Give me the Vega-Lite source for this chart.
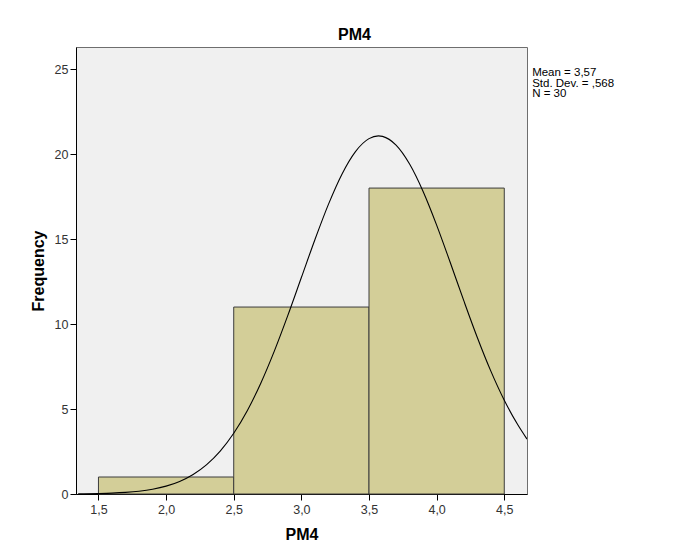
{
  "$schema": "https://vega.github.io/schema/vega-lite/v6.json",
  "autosize": {"type": "none"},
  "padding": {"left": 76, "top": 47, "right": 159, "bottom": 59},
  "width": 451,
  "height": 447,
  "background": "white",
  "title": {"text": "PM4", "fontSize": 16, "fontWeight": "bold", "font": "Liberation Sans", "color": "#000000", "offset": 4, "anchor": "middle", "dx": 53},
  "config": {
    "view": {"fill": "#f0f0f0", "stroke": "#6e6e6e", "strokeWidth": 1},
    "axis": {"grid": false, "domainColor": "#000000", "domainWidth": 1, "tickColor": "#000000", "tickSize": 6, "labelFont": "Liberation Sans", "labelFontSize": 12.5, "labelColor": "#333333", "titleFont": "Liberation Sans", "titleFontWeight": "bold", "titleColor": "#000000"}
  },
  "datasets": {
    "bins": [
      {"bin_start": 1.5, "bin_end": 2.5, "count": 1},
      {"bin_start": 2.5, "bin_end": 3.5, "count": 11},
      {"bin_start": 3.5, "bin_end": 4.5, "count": 18}
    ],
    "curve": [
      {"x": 1.35, "y": 0.010}, {"x": 1.5, "y": 0.028}, {"x": 1.6, "y": 0.051}, {"x": 1.7, "y": 0.093},
      {"x": 1.8, "y": 0.164}, {"x": 1.9, "y": 0.280}, {"x": 2.0, "y": 0.462}, {"x": 2.1, "y": 0.740},
      {"x": 2.2, "y": 1.149}, {"x": 2.3, "y": 1.730}, {"x": 2.4, "y": 2.525}, {"x": 2.5, "y": 3.573},
      {"x": 2.6, "y": 4.902}, {"x": 2.7, "y": 6.519}, {"x": 2.8, "y": 8.407}, {"x": 2.9, "y": 10.508},
      {"x": 3.0, "y": 12.735}, {"x": 3.1, "y": 14.962}, {"x": 3.2, "y": 17.042}, {"x": 3.3, "y": 18.819},
      {"x": 3.4, "y": 20.147}, {"x": 3.5, "y": 20.910}, {"x": 3.57, "y": 21.07}, {"x": 3.6, "y": 21.040},
      {"x": 3.7, "y": 20.525}, {"x": 3.8, "y": 19.412}, {"x": 3.9, "y": 17.798}, {"x": 4.0, "y": 15.821},
      {"x": 4.1, "y": 13.633}, {"x": 4.2, "y": 11.390}, {"x": 4.3, "y": 9.225}, {"x": 4.4, "y": 7.244},
      {"x": 4.5, "y": 5.515}, {"x": 4.6, "y": 4.070}, {"x": 4.668, "y": 3.23}
    ],
    "stats": [
      {"label": "Mean = 3,57\nStd. Dev. = ,568\nN = 30", "px": 4.706, "py": 25.1}
    ]
  },
  "layer": [
    {
      "data": {"name": "bins"},
      "mark": {"type": "rect", "fill": "#d3ce98", "stroke": "#3c3c3c", "strokeWidth": 1},
      "encoding": {
        "x": {"field": "bin_start", "type": "quantitative", "scale": {"domain": [1.334, 4.668], "nice": false, "zero": false},
              "axis": {"title": "PM4", "titleFontSize": 16, "titlePadding": 11, "values": [1.5, 2.0, 2.5, 3.0, 3.5, 4.0, 4.5], "labelExpr": "replace(format(datum.value, '.1f'), '.', ',')", "labelPadding": 3}},
        "x2": {"field": "bin_end"},
        "y": {"field": "count", "type": "quantitative", "scale": {"domain": [0, 26.3], "nice": false},
              "axis": {"title": "Frequency", "titleFontSize": 16, "titlePadding": 8, "values": [0, 5, 10, 15, 20, 25], "labelPadding": 2}},
        "y2": {"datum": 0}
      }
    },
    {
      "data": {"name": "curve"},
      "mark": {"type": "line", "color": "#000000", "strokeWidth": 1.1, "interpolate": "monotone", "clip": true},
      "encoding": {
        "x": {"field": "x", "type": "quantitative"},
        "y": {"field": "y", "type": "quantitative"}
      }
    },
    {
      "data": {"name": "stats"},
      "mark": {"type": "text", "align": "left", "baseline": "top", "lineBreak": "\n", "lineHeight": 10.5, "font": "Liberation Sans", "fontSize": 11.5, "color": "#000000"},
      "encoding": {
        "x": {"field": "px", "type": "quantitative"},
        "y": {"field": "py", "type": "quantitative"},
        "text": {"field": "label"}
      }
    }
  ]
}
